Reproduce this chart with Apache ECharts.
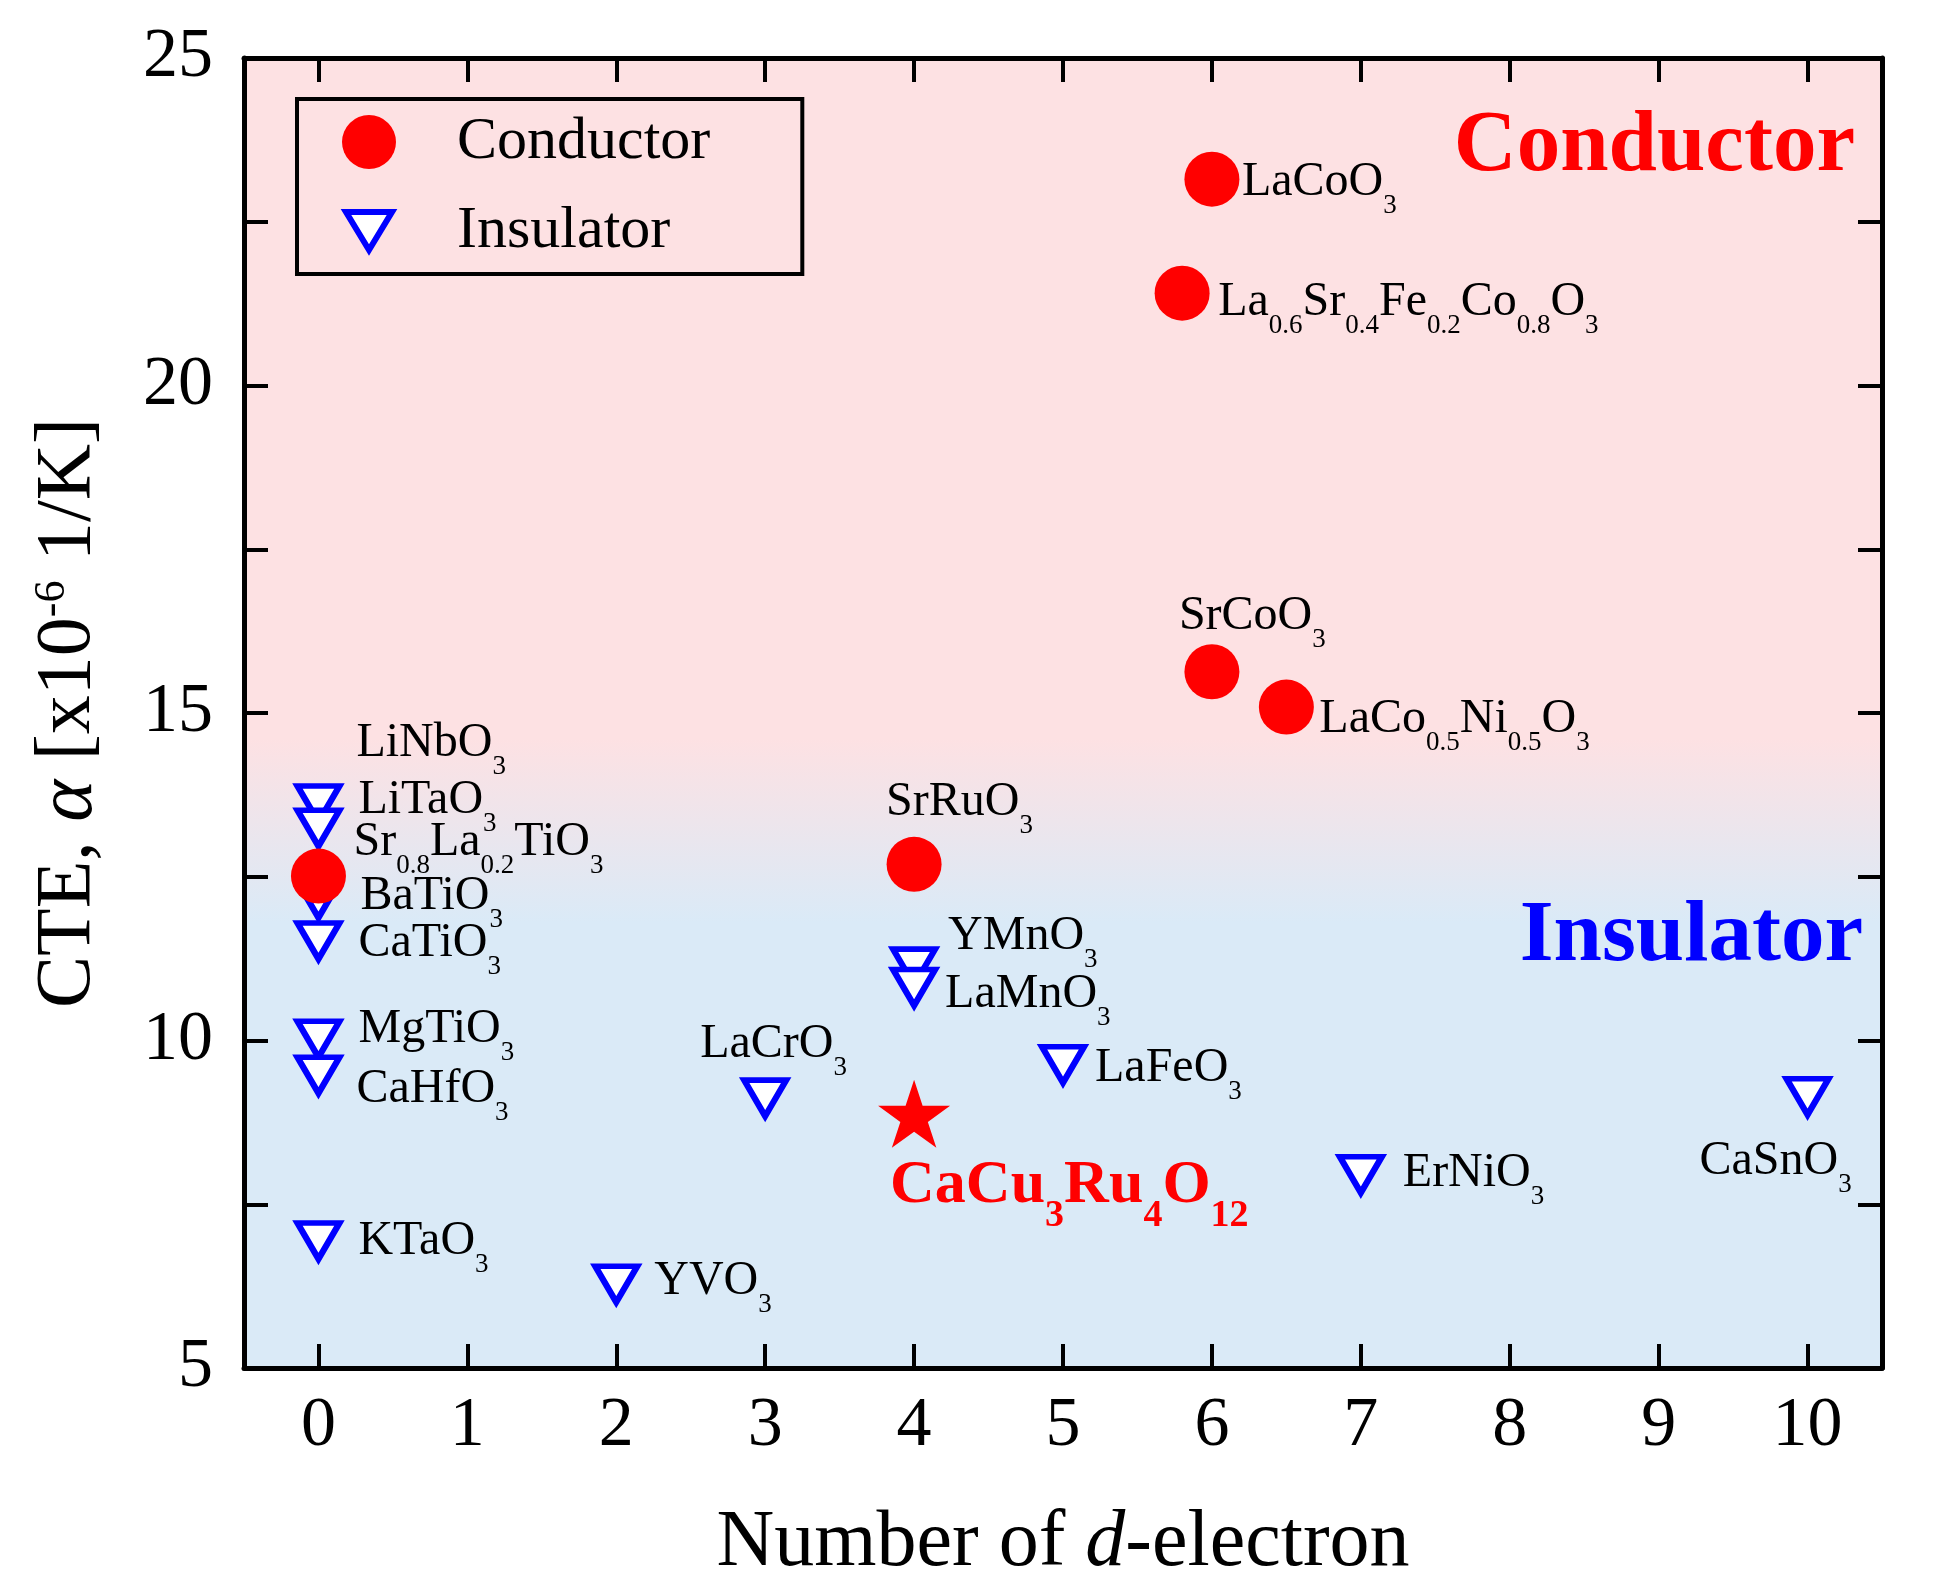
<!DOCTYPE html>
<html><head><meta charset="utf-8">
<script src="https://cdn.jsdelivr.net/npm/echarts@6/dist/echarts.min.js"></script>
<style>html,body{margin:0;padding:0;background:#fff}#c{width:1948px;height:1594px}</style>
</head><body><div id="c"></div>
<script>
// ---------- data ----------
const xTicks = [0, 1, 2, 3, 4, 5, 6, 7, 8, 9, 10];
const yTicks = [5, 7.5, 10, 12.5, 15, 17.5, 20, 22.5, 25];
const yTickLabels = [5, 10, 15, 20, 25];

const conductorNames = ['LaCoO{3}', 'La{0.6}Sr{0.4}Fe{0.2}Co{0.8}O{3}', 'SrCoO{3}', 'LaCo{0.5}Ni{0.5}O{3}', 'SrRuO{3}', 'Sr{0.8}La{0.2}TiO{3}'];
const conductorX = [6, 5.8, 6, 6.5, 4, 0];
const conductorY = [23.15, 21.41, 15.63, 15.09, 12.69, 12.51];

const insulatorNames = ['LiNbO{3}', 'LiTaO{3}', 'BaTiO{3}', 'CaTiO{3}', 'MgTiO{3}', 'CaHfO{3}', 'KTaO{3}', 'YVO{3}', 'LaCrO{3}', 'YMnO{3}', 'LaMnO{3}', 'LaFeO{3}', 'ErNiO{3}', 'CaSnO{3}'];
const insulatorX = [0, 0, 0, 0, 0, 0, 0, 2, 3, 4, 4, 5, 7, 10];
const insulatorY = [13.61, 13.24, 12.15, 11.52, 10.02, 9.47, 6.94, 6.28, 9.12, 11.12, 10.81, 9.63, 7.95, 9.14];

const highlightNames = ['CaCu{3}Ru{4}O{12}'];
const highlightX = [4];
const highlightY = [8.88];

// ---------- label placement (pixel offsets: [dx to text left, dy of cap middle]) ----------
const labelPlace = {
  'LaCoO{3}': [30, 0], 'La{0.6}Sr{0.4}Fe{0.2}Co{0.8}O{3}': [36, 6], 'SrCoO{3}': [-33, -58],
  'LaCo{0.5}Ni{0.5}O{3}': [33, 9], 'SrRuO{3}': [-28, -65], 'Sr{0.8}La{0.2}TiO{3}': [35, -37],
  'LiNbO{3}': [38, -64], 'LiTaO{3}': [40, -31], 'BaTiO{3}': [42, -6], 'CaTiO{3}': [40, -1],
  'MgTiO{3}': [40, -13], 'CaHfO{3}': [38, 11], 'KTaO{3}': [40, -3], 'YVO{3}': [38, -6],
  'LaCrO{3}': [-65, -57], 'YMnO{3}': [34, -34], 'LaMnO{3}': [31, 4], 'LaFeO{3}': [32, 1],
  'ErNiO{3}': [42, -4], 'CaSnO{3}': [-108, 62], 'CaCu{3}Ru{4}O{12}': [-24, 72]
};

const FONT = '"Liberation Serif", "Times New Roman", serif';

function toRich(name, m, s) {
  return name.replace(/\{([^}]*)\}|([^{]+)/g, (all, sub, main) =>
    sub !== undefined ? '{' + s + '|' + sub + '}' : '{' + m + '|' + main + '}');
}

const richNormal = {
  m: { fontFamily: FONT, fontSize: 48, lineHeight: 56, verticalAlign: 'top', color: '#000' },
  s: { fontFamily: FONT, fontSize: 27, lineHeight: 28, verticalAlign: 'top', padding: [34, 0, 0, 0], color: '#000' }
};
const richHighlight = {
  cm: { fontFamily: FONT, fontSize: 62, fontWeight: 'bold', lineHeight: 70, verticalAlign: 'top', color: '#ff0000' },
  cs: { fontFamily: FONT, fontSize: 38, fontWeight: 'bold', lineHeight: 38, verticalAlign: 'top', padding: [42, 0, 0, 0], color: '#ff0000' }
};

function makePoints(names, xs, ys, capMid) {
  return names.map((n, i) => {
    const p = labelPlace[n] || [30, 0];
    return { name: n, value: [xs[i], ys[i]], label: { offset: [p[0], p[1] - capMid] } };
  });
}

const baseLabel = {
  show: true, position: 'inside', align: 'left', verticalAlign: 'top',
  textBorderWidth: 0, color: '#000',
  formatter: p => toRich(p.name, 'm', 's'), rich: richNormal
};

const starPath = 'path://M50 0 L61.23 34.55 L97.55 34.55 L68.17 55.9 L79.39 90.45 L50 69.1 L20.61 90.45 L31.83 55.9 L2.45 34.55 L38.77 34.55 Z';
const legendTriangle = 'path://M0,0 M54,54 M4,8 L50,8 L27,46 Z';

const axisCommon = {
  type: 'value',
  axisLine: { show: true, onZero: false, lineStyle: { color: '#000', width: 5 } },
  splitLine: { show: false },
};

const option = {
  animation: false,
  backgroundColor: '#ffffff',
  grid: {
    left: 244, top: 58, width: 1638, height: 1310, show: true, borderWidth: 0,
    outerBoundsMode: 'none', containLabel: false,
    backgroundColor: {
      type: 'linear', x: 0, y: 0, x2: 0, y2: 1,
      colorStops: [
        { offset: 0, color: '#fde1e3' }, { offset: 0.52, color: '#fde1e3' },
        { offset: 0.66, color: '#daeaf7' }, { offset: 1, color: '#daeaf7' }
      ]
    }
  },
  xAxis: [
    Object.assign({}, axisCommon, {
      position: 'bottom', min: -0.5, max: 10.5,
      axisTick: { show: true, inside: true, length: 24, customValues: xTicks, lineStyle: { color: '#000', width: 4 } },
      axisLabel: { show: true, customValues: xTicks, fontFamily: FONT, fontSize: 70, lineHeight: 70, color: '#000', margin: 24 },
      name: 'Number of {it|d}-electron', nameLocation: 'middle', nameGap: 134,
      nameTextStyle: { fontFamily: FONT, fontSize: 80, lineHeight: 84, color: '#000',
        rich: { it: { fontFamily: FONT, fontSize: 80, lineHeight: 84, fontStyle: 'italic', color: '#000' } } }
    }),
    Object.assign({}, axisCommon, {
      position: 'top', min: -0.5, max: 10.5,
      axisTick: { show: true, inside: true, length: 24, customValues: xTicks, lineStyle: { color: '#000', width: 4 } },
      axisLabel: { show: false }
    })
  ],
  yAxis: [
    Object.assign({}, axisCommon, {
      position: 'left', min: 5, max: 25, interval: 2.5,
      axisTick: { show: true, inside: true, length: 24, customValues: yTicks, lineStyle: { color: '#000', width: 4 } },
      axisLabel: { show: true, customValues: yTickLabels, fontFamily: FONT, fontSize: 70, lineHeight: 70, color: '#000', margin: 31 },
      name: '{n|CTE, }{i|α}{n| [x10}{sup|-6}{n| 1/K]}', nameLocation: 'middle', nameGap: 130,
      nameTextStyle: {
        fontFamily: FONT, fontSize: 78, color: '#000',
        rich: {
          n: { fontFamily: FONT, fontSize: 78, lineHeight: 84, verticalAlign: 'top', color: '#000' },
          i: { fontFamily: FONT, fontSize: 80, lineHeight: 84, fontStyle: 'italic', verticalAlign: 'top', color: '#000' },
          sup: { fontFamily: FONT, fontSize: 44, lineHeight: 44, verticalAlign: 'top', color: '#000' }
        }
      }
    }),
    Object.assign({}, axisCommon, {
      position: 'right', min: 5, max: 25, interval: 2.5,
      axisTick: { show: true, inside: true, length: 24, customValues: yTicks, lineStyle: { color: '#000', width: 4 } },
      axisLabel: { show: false }
    })
  ],
  legend: {
    left: 297, top: 99, orient: 'vertical', selectedMode: false,
    borderColor: '#000', borderWidth: 4, padding: [13, 92, 13, 42],
    itemWidth: 54, itemHeight: 54, itemGap: 29, symbolRotate: 0,
    textStyle: { fontFamily: FONT, fontSize: 60, lineHeight: 60, color: '#000', padding: [0, 0, 0, 56] },
    data: [
      { name: 'Conductor', icon: 'circle', itemStyle: { color: '#ff0000', opacity: 1 } },
      { name: 'Insulator', icon: legendTriangle, symbolRotate: 0,
        itemStyle: { color: '#ffffff', borderColor: '#0000ff', borderWidth: 6, opacity: 1 } }
    ]
  },
  graphic: [
    { type: 'text', x: 1855, y: 148, z: 100, silent: true,
      style: { text: 'Conductor', align: 'right', verticalAlign: 'middle', fill: '#ff0000',
        fontFamily: FONT, fontSize: 87, fontWeight: 'bold' } },
    { type: 'text', x: 1863, y: 938, z: 100, silent: true,
      style: { text: 'Insulator', align: 'right', verticalAlign: 'middle', fill: '#0000ff',
        fontFamily: FONT, fontSize: 87, fontWeight: 'bold' } }
  ],
  series: [
    {
      type: 'scatter', name: 'Insulator', xAxisIndex: 0, yAxisIndex: 0,
      symbol: 'triangle', symbolRotate: 180, symbolSize: [42, 36],
      itemStyle: { color: '#ffffff', borderColor: '#0000ff', borderWidth: 6, opacity: 1 },
      label: baseLabel, emphasis: { disabled: true },
      data: makePoints(insulatorNames, insulatorX, insulatorY, 21)
    },
    {
      type: 'scatter', name: 'Conductor', xAxisIndex: 0, yAxisIndex: 0,
      symbol: 'circle', symbolSize: 55,
      itemStyle: { color: '#ff0000', opacity: 1 },
      label: baseLabel, emphasis: { disabled: true },
      data: makePoints(conductorNames, conductorX, conductorY, 21)
    },
    {
      type: 'scatter', name: 'CaCu3Ru4O12', xAxisIndex: 0, yAxisIndex: 0,
      symbol: starPath, symbolSize: [72, 68],
      itemStyle: { color: '#ff0000', opacity: 1 },
      label: Object.assign({}, baseLabel, { formatter: p => toRich(p.name, 'cm', 'cs'), rich: richHighlight }),
      emphasis: { disabled: true },
      data: makePoints(highlightNames, highlightX, highlightY, 31)
    }
  ]
};

const chart = echarts.init(document.getElementById('c'), null, { renderer: 'canvas' });
chart.setOption(option);
</script>
</body></html>
